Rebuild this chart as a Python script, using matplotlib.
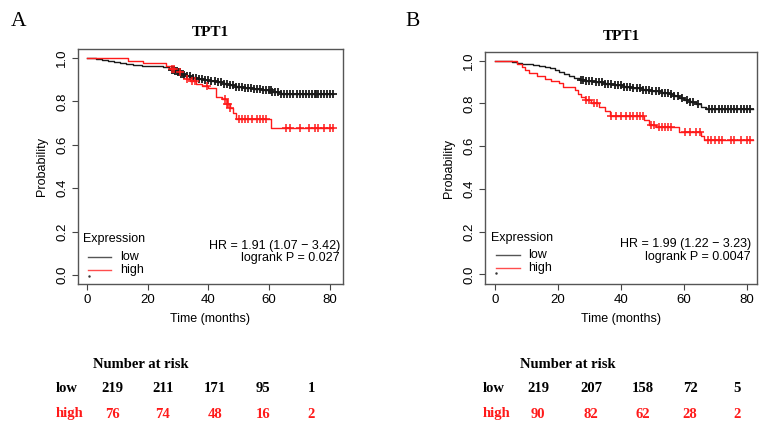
import numpy as np
import matplotlib
matplotlib.use("Agg")
import matplotlib.pyplot as plt

# ---- data ----
# panel A, Kaplan-Meier steps (time in months, survival probability)
a_low_t = [0, 3, 5, 7, 9, 11, 13, 15, 18, 22, 25, 27, 28, 29, 30, 31, 32, 33, 35, 37,
           39, 41, 43, 45, 47, 49, 52, 55, 58, 61, 64, 81]
a_low_s = [1.0, .995, .99, .985, .98, .975, .972, .968, .965, .962, .958, .952, .945, .94,
           .935, .928, .922, .915, .91, .905, .90, .895, .888, .88, .874, .868, .862, .857,
           .852, .845, .835, .835]
a_high_t = [0, 13.5, 18.5, 26, 28, 29.5, 31, 32.5, 34, 36, 38, 40, 42.5, 44.5, 46, 47, 48,
            49, 60.5, 81]
a_high_s = [1.0, .988, .975, .965, .948, .935, .92, .905, .892, .88, .87, .86, .82, .81,
            .79, .77, .745, .72, .676, .676]
a_low_cens = [28, 28.5, 29, 29.5, 30, 30.5, 31, 31.5, 32, 33, 34, 35, 36, 37, 38, 39, 40,
              41, 42, 43, 44, 45, 46, 47, 48, 49, 50, 51, 52, 53, 54, 55, 56, 57, 58, 59,
              60, 60.5, 61, 62, 63, 64, 65, 66, 67, 68, 69, 70, 71, 72, 73, 74, 75, 75.5,
              76, 77, 78, 79, 80, 81]
a_high_cens = [28, 28.5, 30.5, 33, 34.5, 35.5, 39.5, 45.5, 46, 46.5, 47, 50, 51, 52, 53,
               54.5, 56, 57, 58, 59, 65.5, 67, 70, 73, 75, 76, 78, 80, 81]

# panel B
b_low_t = [0, 5.5, 7, 8.5, 10, 12, 14, 16, 17.5, 19, 20.5, 22, 23.5, 25, 27, 29, 32, 35,
           38, 41, 44, 47, 50, 53, 55.5, 57, 58.5, 60, 62, 64, 65.5, 67, 82]
b_low_s = [1.0, .995, .99, .986, .983, .979, .975, .97, .964, .957, .948, .938, .928, .918,
           .91, .903, .898, .892, .884, .876, .87, .864, .857, .85, .844, .836, .825, .815,
           .806, .797, .785, .772, .772]
b_high_t = [0, 7, 8.5, 9.5, 11, 13.5, 16, 18, 20.5, 21.5, 25.5, 26.5, 27.5, 28.5, 30.5,
            33, 35, 36.5, 47.5, 49, 51, 58.5, 65.5, 66.5, 82]
b_high_s = [1.0, .985, .972, .958, .942, .93, .915, .905, .897, .878, .86, .845, .83, .815,
            .80, .785, .765, .742, .72, .70, .69, .665, .648, .627, .627]
b_low_cens = [27.5, 28, 29, 30, 31, 32, 33, 34, 35, 36, 37, 38, 39, 40, 41, 42, 43, 44, 45,
              46, 47, 48, 49, 50, 51, 52, 53, 54, 55, 56, 57, 58, 59.5, 61, 62, 63, 64.5,
              68, 69, 70, 71, 72, 73, 74, 75, 76, 77, 78, 79, 80, 81]
b_high_cens = [29, 30, 31.5, 32.5, 37, 38.5, 40, 41.5, 43, 44, 45, 46, 47, 49.5, 50.5,
               52, 53, 54, 55, 56, 60.5, 62, 64, 65, 67.5, 68.5, 70, 71, 72, 75, 76, 78,
               80, 81]

stats_a = ["HR = 1.91 (1.07 \u2212 3.42)", "logrank P = 0.027"]
stats_b = ["HR = 1.99 (1.22 \u2212 3.23)", "logrank P = 0.0047"]

risk_a_low = [219, 211, 171, 95, 1]
risk_a_high = [76, 74, 48, 16, 2]
risk_b_low = [219, 207, 158, 72, 5]
risk_b_high = [90, 82, 62, 28, 2]

LOW_C = "#1a1a1a"
HIGH_C = "#ff1a1a"
SANS = "Liberation Sans"
SERIF = "Liberation Serif"


def step_value(t, s, x):
    i = np.searchsorted(t, x, side="right") - 1
    return np.asarray(s)[i]


def km_panel(ax, lt, ls, ht, hs, lc, hc, stats, xlim, ylim, leg):
    ax.step(lt, ls, where="post", color=LOW_C, lw=1.0)
    ax.step(ht, hs, where="post", color=HIGH_C, lw=1.0)
    ax.plot(lc, step_value(lt, ls, lc), ls="none", marker="+", ms=5.5, mew=1.3, color=LOW_C)
    ax.plot(hc, step_value(ht, hs, hc), ls="none", marker="+", ms=5.5, mew=1.1, color=HIGH_C)
    ax.set_xlim(*xlim)
    ax.set_ylim(*ylim)
    ax.set_xticks([0, 20, 40, 60, 80])
    ax.set_yticks([0.0, 0.2, 0.4, 0.6, 0.8, 1.0])
    ax.set_yticklabels(["0.0", "0.2", "0.4", "0.6", "0.8", "1.0"], rotation=90, va="center")
    ax.tick_params(direction="out", length=4, width=0.8, color="#444444", labelsize=9.5, pad=3)
    for lab in ax.get_xticklabels() + ax.get_yticklabels():
        lab.set_fontfamily(SANS)
    for sp in ax.spines.values():
        sp.set_color("#555555")
        sp.set_linewidth(1.0)
    ax.set_xlabel("Time (months)", fontsize=9, family=SANS, labelpad=5)
    ax.set_ylabel("Probability", fontsize=9, family=SANS, labelpad=6)
    ax.set_title("TPT1", fontsize=11, family=SERIF, fontweight="bold", pad=9)

    # legend drawn R style
    lx, ty, y1, y2, dy, tx, lx2 = leg
    tr = ax.transAxes
    ax.text(lx, ty, "Expression", transform=tr, fontsize=9, family=SANS, va="center")
    ax.plot([lx + 0.02, lx + 0.105], [y1, y1], transform=tr, color="#555555", lw=1.0)
    ax.plot([lx + 0.02, lx + 0.105], [y2, y2], transform=tr, color="#ff4d4d", lw=1.0)
    ax.text(tx, y1, "low", transform=tr, fontsize=9, family=SANS, va="center")
    ax.text(tx, y2, "high", transform=tr, fontsize=9, family=SANS, va="center")
    ax.plot([lx2], [dy], transform=tr, marker=".", ms=1.5, color="#333333")

    ax.text(stats[2], stats[3], stats[0], transform=tr, fontsize=9, family=SANS,
            ha="right", va="center")
    ax.text(stats[2], stats[4], stats[1], transform=tr, fontsize=9, family=SANS,
            ha="right", va="center")


fig = plt.figure(figsize=(7.76, 4.32), dpi=100)
ax_a = fig.add_axes([0.1005, 0.3426, 0.3415, 0.544])
ax_b = fig.add_axes([0.625, 0.3426, 0.3505, 0.537])

km_panel(ax_a, a_low_t, a_low_s, a_high_t, a_high_s, a_low_cens, a_high_cens,
         stats_a + [0.989, 0.162, 0.11], (-2.96, 84.3), (-0.0415, 1.0415),
         (0.019, 0.19, 0.115, 0.06, 0.034, 0.159, 0.04))
km_panel(ax_b, b_low_t, b_low_s, b_high_t, b_high_s, b_low_cens, b_high_cens,
         stats_b + [0.977, 0.172, 0.115], (-3.1, 83.2), (-0.045, 1.04),
         (0.022, 0.2, 0.125, 0.069, 0.047, 0.158, 0.04))

# panel letters
fig.text(19 / 776, 1 - 21 / 432, "A", fontsize=15.5, family=SERIF, ha="center", va="center")
fig.text(413 / 776, 1 - 21 / 432, "B", fontsize=15.5, family=SERIF, ha="center", va="center")

# number at risk tables
rows_y = [1 - 389 / 432, 1 - 414 / 432]
head_y = 1 - 365 / 432
tables = [
    (93, 56, [112, 163, 215, 263, 311], risk_a_low, risk_a_high),
    (520, 483, [538, 591, 643, 690, 737], risk_b_low, risk_b_high),
]
for head_x, lab_x, cols, lows, highs in tables:
    fig.text(head_x / 776, head_y, "Number at risk", fontsize=10.5, family=SERIF,
             fontweight="bold", va="center")
    fig.text(lab_x / 776, rows_y[0], "low", fontsize=10.5, family=SERIF,
             fontweight="bold", va="center", color="black")
    fig.text(lab_x / 776, rows_y[1], "high", fontsize=10.5, family=SERIF,
             fontweight="bold", va="center", color=HIGH_C)
    for cx, lo, hi in zip(cols, lows, highs):
        fig.text(cx / 776, rows_y[0], str(lo), fontsize=10.5, family=SERIF,
                 fontweight="bold", ha="center", va="center", color="black")
        fig.text(cx / 776, rows_y[1], str(hi), fontsize=10.5, family=SERIF,
                 fontweight="bold", ha="center", va="center", color=HIGH_C)

fig.savefig("out.png", dpi=100)
